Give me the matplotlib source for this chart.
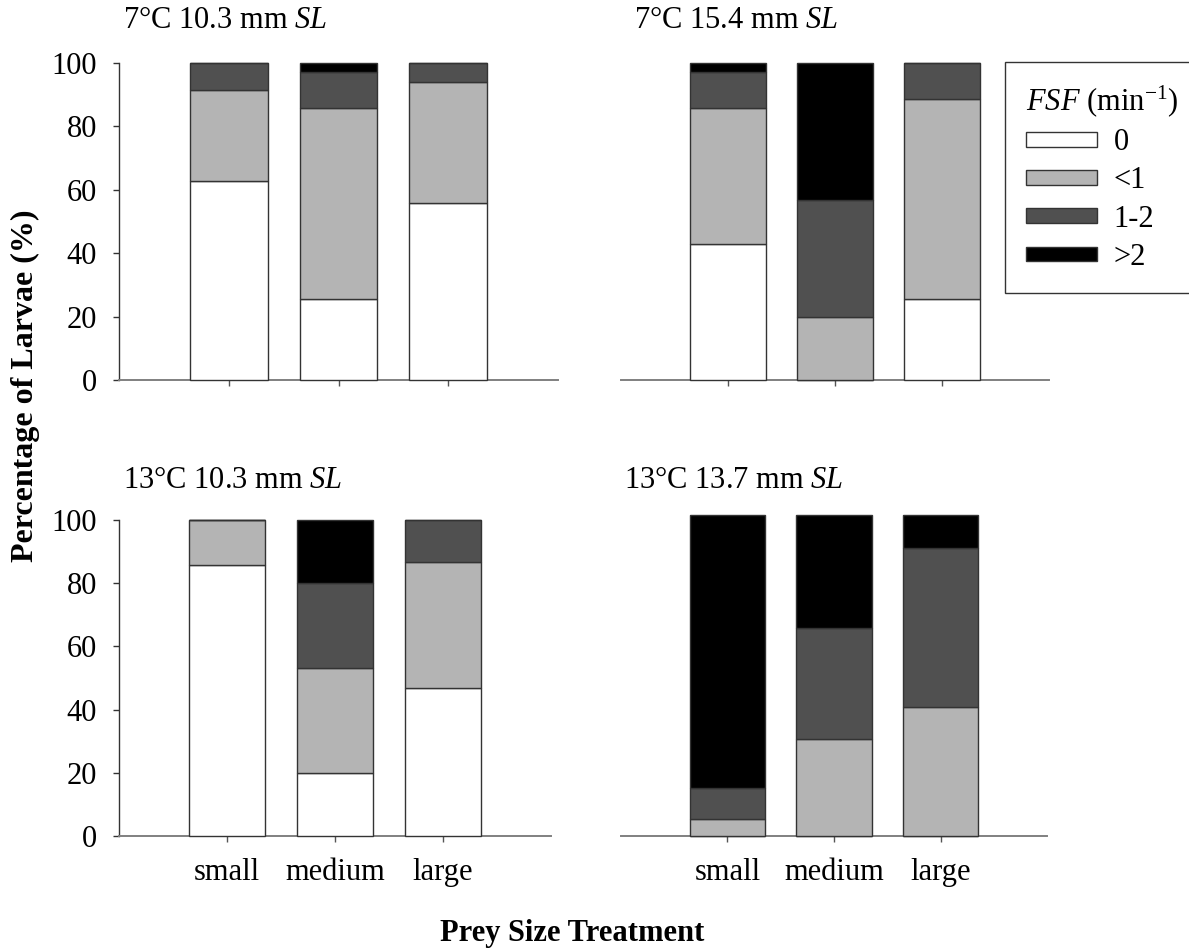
import matplotlib
matplotlib.use('Agg')
import matplotlib.pyplot as plt
import numpy as np

plt.rcParams['font.family'] = ['Liberation Serif', 'DejaVu Serif']
plt.rcParams['mathtext.fontset'] = 'custom'
plt.rcParams['mathtext.rm'] = 'Liberation Serif'
plt.rcParams['mathtext.it'] = 'Liberation Serif:italic'
plt.rcParams['mathtext.bf'] = 'Liberation Serif:bold'

# categorie e classi di FSF
prey_sizes = ['small', 'medium', 'large']
fsf_classes = ['0', '<1', '1-2', '>2']
fsf_colors = ['#ffffff', '#b4b4b4', '#505050', '#000000']

panel_titles = ['7°C 10.3 mm $\\it{SL}$', '7°C 15.4 mm $\\it{SL}$',
                '13°C 10.3 mm $\\it{SL}$', '13°C 13.7 mm $\\it{SL}$']

# percentuali: una riga per classe FSF, una colonna per taglia della preda
pct_7c_103 = [[62.9, 25.7, 55.9],
              [28.6, 60.0, 38.2],
              [8.5, 11.4, 5.9],
              [0.0, 2.9, 0.0]]
pct_7c_154 = [[42.9, 0.0, 25.7],
              [42.9, 20.0, 62.9],
              [11.4, 36.7, 11.4],
              [2.8, 43.3, 0.0]]
pct_13c_103 = [[85.7, 20.0, 46.7],
               [14.3, 33.3, 40.0],
               [0.0, 26.7, 13.3],
               [0.0, 20.0, 0.0]]
pct_13c_137 = [[0.0, 0.0, 0.0],
               [5.4, 30.6, 40.7],
               [9.8, 35.3, 50.5],
               [86.4, 35.7, 10.4]]

panels = [pct_7c_103, pct_7c_154, pct_13c_103, pct_13c_137]

W, H = 1189, 948
fig = plt.figure(figsize=(W / 100, H / 100), dpi=100)
FS = 22

# posizioni degli assi in pixel: (sinistra, destra, basso, alto)
boxes = [(119, 558, 380, 63), (621, 1049, 380, 63),
         (119, 551, 836, 520), (621, 1047, 836, 520)]
title_pos = [(123, 21), (634, 21), (123, 480), (624, 480)]

x = np.arange(1, len(prey_sizes) + 1)
axes = []
for i, (data, box) in enumerate(zip(panels, boxes)):
    l, r, b, t = box
    ax = fig.add_axes([l / W, 1 - b / H, (r - l) / W, (b - t) / H])
    axes.append(ax)
    bottom = np.zeros(len(prey_sizes))
    for k, vals in enumerate(data):
        vals = np.array(vals)
        ax.bar(x, vals, width=0.71, bottom=bottom, color=fsf_colors[k],
               edgecolor='#333333', linewidth=1.0, label=fsf_classes[k],
               clip_on=False, zorder=3)
        bottom += vals
    ax.set_xlim(0, 4)
    ax.set_ylim(0, 100)
    ax.set_xticks(x)
    for s in ['top', 'right']:
        ax.spines[s].set_visible(False)
    ax.spines['bottom'].set_color('#808080')
    ax.spines['bottom'].set_linewidth(1.4)
    ax.tick_params(axis='x', direction='out', length=4, width=1,
                   color='#555555', labelsize=FS, pad=12)
    if i >= 2:
        ax.set_xticklabels(prey_sizes)
    else:
        ax.set_xticklabels([])
    if i % 2 == 0:
        ax.spines['left'].set_color('#333333')
        ax.spines['left'].set_linewidth(1.0)
        ax.set_yticks([0, 20, 40, 60, 80, 100])
        ax.tick_params(axis='y', direction='out', length=4, width=1,
                       color='#333333', labelsize=FS, pad=12)
    else:
        ax.spines['left'].set_visible(False)
        ax.set_yticks([])
    tx, ty = title_pos[i]
    fig.text(tx / W, 1 - ty / H, panel_titles[i], fontsize=FS,
             ha='left', va='center')

handles, labels = axes[0].get_legend_handles_labels()
leg = fig.legend(handles, labels, title='$\\it{FSF}$ (min$^{-1}$)',
                 loc='upper left', bbox_to_anchor=(1005 / W, 1 - 62 / H),
                 borderaxespad=0, fontsize=FS, title_fontsize=FS,
                 frameon=True, fancybox=False, edgecolor='black',
                 handlelength=2.3, handleheight=0.35, handletextpad=0.55,
                 labelspacing=0.3, borderpad=0.7, alignment='left')
leg.get_frame().set_linewidth(1.0)

fig.text(572 / W, 1 - 933 / H, 'Prey Size Treatment', fontsize=FS,
         fontweight='bold', ha='center', va='center')
fig.text(25 / W, 1 - 386 / H, 'Percentage of Larvae (%)', fontsize=23,
         fontweight='bold', rotation=90, ha='center', va='center')

fig.savefig('out.png', dpi=100)
